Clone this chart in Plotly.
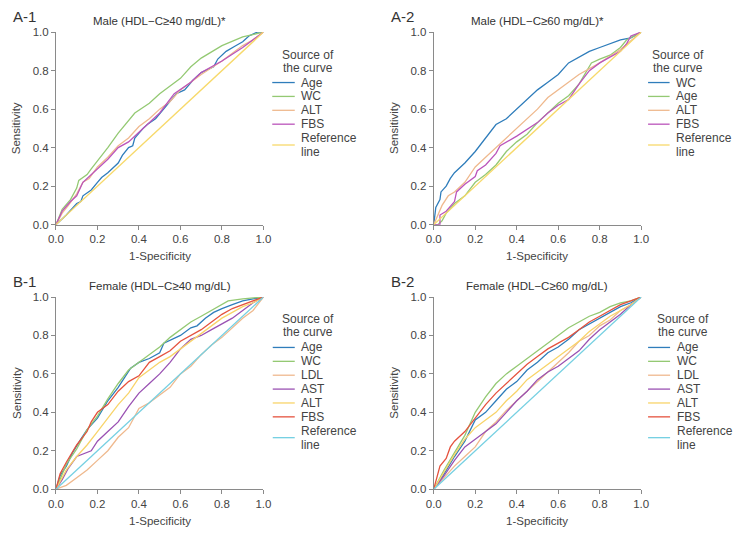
import plotly.graph_objects as go

# ---------------- data ----------------
# Panel A-1: Male (HDL-C>=40 mg/dL)*
A1_age_x = [0, 0.05, 0.1, 0.12, 0.13, 0.17, 0.2, 0.22, 0.25, 0.28, 0.3, 0.32, 0.35, 0.37, 0.38, 0.42, 0.44, 0.48, 0.52, 0.55, 0.58, 0.62, 0.66, 0.7, 0.76, 0.78, 0.82, 0.86, 0.9, 0.93, 0.97, 1]
A1_age_y = [0, 0.05, 0.11, 0.12, 0.15, 0.18, 0.22, 0.245, 0.27, 0.3, 0.32, 0.36, 0.4, 0.41, 0.45, 0.5, 0.52, 0.55, 0.6, 0.64, 0.68, 0.7, 0.75, 0.79, 0.82, 0.86, 0.9, 0.925, 0.95, 0.98, 1.0, 1]
A1_wc_x = [0, 0.03, 0.07, 0.1, 0.11, 0.15, 0.17, 0.2, 0.25, 0.3, 0.34, 0.38, 0.45, 0.5, 0.55, 0.6, 0.65, 0.7, 0.8, 0.9, 1]
A1_wc_y = [0, 0.08, 0.13, 0.19, 0.23, 0.26, 0.29, 0.33, 0.4, 0.475, 0.53, 0.58, 0.63, 0.68, 0.72, 0.76, 0.82, 0.865, 0.93, 0.975, 1]
A1_alt_x = [0, 0.03, 0.06, 0.1, 0.13, 0.16, 0.2, 0.25, 0.3, 0.35, 0.4, 0.45, 0.5, 0.55, 0.6, 0.7, 0.8, 0.9, 0.95, 1]
A1_alt_y = [0, 0.06, 0.1, 0.16, 0.22, 0.24, 0.3, 0.35, 0.41, 0.45, 0.51, 0.55, 0.6, 0.64, 0.7, 0.78, 0.85, 0.93, 0.96, 1]
A1_fbs_x = [0, 0.03, 0.07, 0.1, 0.13, 0.17, 0.2, 0.25, 0.3, 0.35, 0.4, 0.45, 0.5, 0.57, 0.65, 0.7, 0.8, 0.9, 0.95, 1]
A1_fbs_y = [0, 0.07, 0.12, 0.15, 0.22, 0.26, 0.29, 0.34, 0.4, 0.43, 0.48, 0.53, 0.58, 0.68, 0.74, 0.79, 0.85, 0.92, 0.96, 1]

# Panel A-2: Male (HDL-C>=60 mg/dL)*
A2_wc_x = [0, 0.005, 0.01, 0.03, 0.035, 0.06, 0.08, 0.1, 0.15, 0.2, 0.25, 0.3, 0.35, 0.4, 0.45, 0.5, 0.55, 0.6, 0.65, 0.7, 0.75, 0.8, 0.85, 0.9, 0.95, 1]
A2_wc_y = [0, 0.05, 0.09, 0.13, 0.17, 0.2, 0.24, 0.27, 0.32, 0.38, 0.45, 0.52, 0.55, 0.6, 0.65, 0.7, 0.74, 0.78, 0.84, 0.87, 0.9, 0.92, 0.94, 0.96, 0.97, 1]
A2_age_x = [0, 0.02, 0.04, 0.06, 0.1, 0.15, 0.2, 0.25, 0.3, 0.35, 0.4, 0.45, 0.5, 0.55, 0.6, 0.65, 0.7, 0.76, 0.8, 0.85, 0.9, 0.93, 1]
A2_age_y = [0, 0, 0.02, 0.06, 0.11, 0.15, 0.22, 0.26, 0.31, 0.38, 0.43, 0.47, 0.53, 0.58, 0.63, 0.67, 0.73, 0.84, 0.86, 0.88, 0.92, 0.96, 1]
A2_alt_x = [0, 0.02, 0.04, 0.07, 0.1, 0.15, 0.2, 0.25, 0.3, 0.35, 0.4, 0.45, 0.5, 0.55, 0.6, 0.65, 0.7, 0.8, 0.9, 1]
A2_alt_y = [0, 0.05, 0.1, 0.15, 0.17, 0.22, 0.3, 0.35, 0.4, 0.45, 0.5, 0.55, 0.6, 0.66, 0.7, 0.74, 0.78, 0.84, 0.91, 1]
A2_fbs_x = [0, 0.03, 0.03, 0.06, 0.1, 0.11, 0.15, 0.2, 0.21, 0.25, 0.3, 0.32, 0.4, 0.5, 0.55, 0.6, 0.65, 0.7, 0.75, 0.8, 0.9, 0.93, 0.95, 1]
A2_fbs_y = [0, 0.0, 0.05, 0.07, 0.12, 0.17, 0.21, 0.25, 0.28, 0.31, 0.37, 0.41, 0.46, 0.53, 0.58, 0.62, 0.65, 0.73, 0.8, 0.84, 0.9, 0.94, 0.98, 1]

# Panel B-1: Female (HDL-C>=40 mg/dL)
B1_age_x = [0, 0.02, 0.05, 0.08, 0.12, 0.15, 0.2, 0.25, 0.3, 0.36, 0.4, 0.45, 0.5, 0.52, 0.6, 0.65, 0.68, 0.72, 0.76, 0.8, 0.85, 0.9, 0.95, 1]
B1_age_y = [0, 0.07, 0.12, 0.19, 0.26, 0.31, 0.37, 0.46, 0.53, 0.63, 0.66, 0.68, 0.71, 0.76, 0.8, 0.84, 0.85, 0.89, 0.92, 0.94, 0.96, 0.98, 0.99, 1]
B1_wc_x = [0, 0.05, 0.1, 0.15, 0.2, 0.25, 0.3, 0.35, 0.4, 0.45, 0.5, 0.55, 0.6, 0.65, 0.7, 0.75, 0.8, 0.83, 0.9, 1]
B1_wc_y = [0, 0.13, 0.21, 0.31, 0.38, 0.47, 0.55, 0.62, 0.66, 0.7, 0.74, 0.79, 0.83, 0.87, 0.9, 0.93, 0.96, 0.98, 0.99, 1]
B1_ldl_x = [0, 0.05, 0.1, 0.15, 0.2, 0.25, 0.3, 0.35, 0.4, 0.45, 0.5, 0.55, 0.6, 0.65, 0.7, 0.75, 0.8, 0.85, 0.9, 0.95, 1]
B1_ldl_y = [0, 0.02, 0.06, 0.1, 0.15, 0.2, 0.27, 0.32, 0.42, 0.45, 0.49, 0.53, 0.6, 0.64, 0.7, 0.75, 0.79, 0.84, 0.89, 0.93, 1]
B1_ast_x = [0, 0.03, 0.06, 0.1, 0.17, 0.2, 0.25, 0.3, 0.35, 0.4, 0.45, 0.5, 0.55, 0.6, 0.65, 0.7, 0.75, 0.8, 0.85, 0.9, 0.95, 1]
B1_ast_y = [0, 0.05, 0.11, 0.17, 0.2, 0.25, 0.3, 0.35, 0.43, 0.5, 0.55, 0.6, 0.66, 0.73, 0.78, 0.8, 0.83, 0.86, 0.89, 0.93, 0.97, 1]
B1_alt_x = [0, 0.05, 0.1, 0.15, 0.2, 0.25, 0.3, 0.35, 0.4, 0.45, 0.5, 0.55, 0.6, 0.65, 0.7, 0.75, 0.8, 0.85, 0.9, 0.95, 1]
B1_alt_y = [0, 0.1, 0.17, 0.23, 0.3, 0.37, 0.44, 0.5, 0.58, 0.62, 0.66, 0.69, 0.73, 0.77, 0.81, 0.85, 0.89, 0.92, 0.95, 0.97, 1]
B1_fbs_x = [0, 0.02, 0.05, 0.1, 0.15, 0.17, 0.2, 0.25, 0.3, 0.35, 0.4, 0.45, 0.5, 0.55, 0.6, 0.65, 0.7, 0.75, 0.8, 0.85, 0.9, 0.95, 1]
B1_fbs_y = [0, 0.08, 0.14, 0.23, 0.3, 0.35, 0.4, 0.44, 0.51, 0.56, 0.59, 0.66, 0.69, 0.72, 0.77, 0.8, 0.83, 0.87, 0.91, 0.94, 0.96, 0.98, 1]

# Panel B-2: Female (HDL-C>=60 mg/dL)
B2_age_x = [0, 0.05, 0.1, 0.15, 0.2, 0.25, 0.3, 0.35, 0.4, 0.45, 0.5, 0.55, 0.6, 0.65, 0.7, 0.75, 0.8, 0.85, 0.9, 0.95, 1]
B2_age_y = [0, 0.08, 0.17, 0.25, 0.36, 0.4, 0.46, 0.52, 0.56, 0.62, 0.66, 0.71, 0.74, 0.78, 0.83, 0.86, 0.89, 0.92, 0.95, 0.97, 1]
B2_wc_x = [0, 0.05, 0.1, 0.15, 0.2, 0.25, 0.3, 0.35, 0.4, 0.45, 0.5, 0.55, 0.6, 0.65, 0.7, 0.75, 0.8, 0.85, 0.9, 0.95, 1]
B2_wc_y = [0, 0.1, 0.19, 0.28, 0.4, 0.48, 0.55, 0.6, 0.64, 0.68, 0.72, 0.76, 0.8, 0.84, 0.87, 0.9, 0.92, 0.95, 0.97, 0.98, 1]
B2_ldl_x = [0, 0.05, 0.1, 0.15, 0.2, 0.25, 0.3, 0.35, 0.4, 0.45, 0.5, 0.55, 0.6, 0.65, 0.7, 0.75, 0.8, 0.85, 0.9, 0.95, 1]
B2_ldl_y = [0, 0.06, 0.12, 0.17, 0.22, 0.3, 0.35, 0.41, 0.46, 0.51, 0.56, 0.61, 0.66, 0.71, 0.77, 0.8, 0.85, 0.88, 0.93, 0.96, 1]
B2_ast_x = [0, 0.05, 0.1, 0.15, 0.2, 0.25, 0.3, 0.35, 0.4, 0.45, 0.5, 0.55, 0.6, 0.65, 0.7, 0.75, 0.8, 0.85, 0.9, 0.95, 1]
B2_ast_y = [0, 0.07, 0.15, 0.22, 0.26, 0.3, 0.34, 0.4, 0.46, 0.51, 0.57, 0.61, 0.64, 0.68, 0.72, 0.78, 0.83, 0.87, 0.91, 0.96, 1]
B2_alt_x = [0, 0.05, 0.1, 0.15, 0.2, 0.25, 0.3, 0.35, 0.4, 0.45, 0.5, 0.55, 0.6, 0.65, 0.7, 0.75, 0.8, 0.85, 0.9, 0.95, 1]
B2_alt_y = [0, 0.09, 0.18, 0.26, 0.32, 0.36, 0.4, 0.46, 0.51, 0.57, 0.61, 0.65, 0.69, 0.73, 0.77, 0.82, 0.86, 0.9, 0.93, 0.96, 1]
B2_fbs_x = [0, 0.03, 0.06, 0.08, 0.1, 0.15, 0.2, 0.25, 0.3, 0.35, 0.4, 0.45, 0.5, 0.55, 0.6, 0.65, 0.7, 0.75, 0.8, 0.85, 0.9, 0.95, 1]
B2_fbs_y = [0, 0.12, 0.16, 0.22, 0.25, 0.3, 0.37, 0.44, 0.5, 0.55, 0.6, 0.65, 0.69, 0.73, 0.76, 0.79, 0.83, 0.87, 0.9, 0.93, 0.96, 0.98, 1]

REF_x = [0, 1]
REF_y = [0, 1]

panel_labels = ["A-1", "A-2", "B-1", "B-2"]
panel_titles = ["Male (HDL\u2212C\u226540 mg/dL)*", "Male (HDL\u2212C\u226560 mg/dL)*",
                "Female (HDL\u2212C\u226540 mg/dL)", "Female (HDL\u2212C\u226560 mg/dL)"]
tick_vals = [0, 0.2, 0.4, 0.6, 0.8, 1.0]
tick_text = ["0.0", "0.2", "0.4", "0.6", "0.8", "1.0"]
legend_title_lines = ["Source of", "the curve"]

# ---------------- styles ----------------
BLUE = "#2f7dbb"
GREEN = "#94c973"
TAN = "#efb98e"
MAGENTA = "#bb55bb"
YELLOW_REF = "#f7d96a"
PURPLE = "#9a52b3"
YELLOW = "#f8d46a"
RED = "#e5533f"
CYAN = "#76d0e2"

panels = [
    [("Age", A1_age_x, A1_age_y, BLUE), ("WC", A1_wc_x, A1_wc_y, GREEN),
     ("ALT", A1_alt_x, A1_alt_y, TAN), ("FBS", A1_fbs_x, A1_fbs_y, MAGENTA),
     ("Reference<br>line", REF_x, REF_y, YELLOW_REF)],
    [("WC", A2_wc_x, A2_wc_y, BLUE), ("Age", A2_age_x, A2_age_y, GREEN),
     ("ALT", A2_alt_x, A2_alt_y, TAN), ("FBS", A2_fbs_x, A2_fbs_y, MAGENTA),
     ("Reference<br>line", REF_x, REF_y, YELLOW_REF)],
    [("Age", B1_age_x, B1_age_y, BLUE), ("WC", B1_wc_x, B1_wc_y, GREEN),
     ("LDL", B1_ldl_x, B1_ldl_y, TAN), ("AST", B1_ast_x, B1_ast_y, PURPLE),
     ("ALT", B1_alt_x, B1_alt_y, YELLOW), ("FBS", B1_fbs_x, B1_fbs_y, RED),
     ("Reference<br>line", REF_x, REF_y, CYAN)],
    [("Age", B2_age_x, B2_age_y, BLUE), ("WC", B2_wc_x, B2_wc_y, GREEN),
     ("LDL", B2_ldl_x, B2_ldl_y, TAN), ("AST", B2_ast_x, B2_ast_y, PURPLE),
     ("ALT", B2_alt_x, B2_alt_y, YELLOW), ("FBS", B2_fbs_x, B2_fbs_y, RED),
     ("Reference<br>line", REF_x, REF_y, CYAN)],
]

W, H = 751, 534
FONT = "Liberation Sans, Arial, sans-serif"
TXT = "#444444"
AXC = "#8a8a8a"
FS = 11.5


def px(x):
    return x / W


def py(y):
    return 1 - y / H


# plot areas in pixels: (left, right, top, bottom)
areas = [(49, 261, 26.7, 223.7), (435, 647, 26.7, 223.7),
         (49, 261, 297.7, 494.3), (435, 647, 297.7, 494.3)]
# legend geometry in pixels: (line x0, line x1, text x, title center x, title y, first item y)
leg_geo = [(270, 293, 298, 306.5, 50, 78.3), (654, 676, 682, 684.5, 50, 78.3),
           (270.5, 293, 298.5, 306.5, 320.5, 349.3), (654, 676.5, 683, 690, 320.5, 349.3)]
ROW = 14.2
TROW = 13.5

fig = go.Figure()
annotations = []
shapes = []
layout_axes = {}

for i, series in enumerate(panels):
    xa = "x" if i == 0 else f"x{i+1}"
    ya = "y" if i == 0 else f"y{i+1}"
    for name, xs, ys, col in series:
        fig.add_trace(go.Scatter(x=xs, y=ys, mode="lines", name=name.replace("<br>", " "),
                                 line=dict(color=col, width=1.3), xaxis=xa, yaxis=ya,
                                 showlegend=False, hoverinfo="skip"))
    l, r, t, b = areas[i]
    axcommon = dict(range=[0, 1], showgrid=False, zeroline=False, showline=True,
                    linecolor=AXC, linewidth=1, ticks="outside", ticklen=4, tickwidth=1,
                    tickcolor=AXC, tickvals=tick_vals, ticktext=tick_text,
                    tickfont=dict(family=FONT, size=FS, color=TXT), fixedrange=True)
    xkey = "xaxis" if i == 0 else f"xaxis{i+1}"
    ykey = "yaxis" if i == 0 else f"yaxis{i+1}"
    layout_axes[xkey] = dict(axcommon, domain=[px(l), px(r)], anchor=ya)
    layout_axes[ykey] = dict(axcommon, domain=[py(b), py(t)], anchor=xa)

    cx = (l + r) / 2
    # panel label
    annotations.append(dict(text=panel_labels[i], x=px(l - 45), y=py(t - 15.5),
                            xref="paper", yref="paper", xanchor="left", yanchor="middle",
                            showarrow=False, borderpad=0,
                            font=dict(family=FONT, size=15, color="#333333")))
    # title
    annotations.append(dict(text=panel_titles[i], x=px(cx), y=py(t - 11.5), xref="paper", yref="paper",
                            xanchor="center", yanchor="middle", showarrow=False, borderpad=0,
                            font=dict(family=FONT, size=FS, color="#333333")))
    # axis titles
    annotations.append(dict(text="Sensitivity", x=px(l - 40), y=py((t + b) / 2), xref="paper", yref="paper",
                            xanchor="center", yanchor="middle", textangle=-90, showarrow=False,
                            borderpad=0, font=dict(family=FONT, size=FS, color=TXT)))
    annotations.append(dict(text="1-Specificity", x=px(cx), y=py(b + 32.5), xref="paper", yref="paper",
                            xanchor="center", yanchor="middle", showarrow=False, borderpad=0,
                            font=dict(family=FONT, size=FS, color=TXT)))

    # legend
    lx0, lx1, tx, tcx, ty, iy = leg_geo[i]
    for j, line in enumerate(legend_title_lines):
        annotations.append(dict(text=line, x=px(tcx), y=py(ty + j * TROW), xref="paper", yref="paper",
                                xanchor="center", yanchor="middle", showarrow=False, borderpad=0,
                                font=dict(family=FONT, size=FS + 0.5, color=TXT)))
    for k, (name, xs, ys, col) in enumerate(series):
        yy = iy + k * ROW
        parts = name.split("<br>")
        ly = yy + ROW * (len(parts) - 1) / 2
        shapes.append(dict(type="line", xref="paper", yref="paper", x0=px(lx0), x1=px(lx1),
                           y0=py(ly), y1=py(ly), line=dict(color=col, width=1.3)))
        for j, part in enumerate(parts):
            annotations.append(dict(text=part, x=px(tx), y=py(yy + j * ROW), xref="paper", yref="paper",
                                    xanchor="left", yanchor="middle", showarrow=False, borderpad=0,
                                    font=dict(family=FONT, size=FS + 0.5, color=TXT)))

fig.update_layout(width=W, height=H, autosize=False, margin=dict(l=0, r=0, t=0, b=0),
                  paper_bgcolor="white", plot_bgcolor="white", showlegend=False,
                  annotations=annotations, shapes=shapes, **layout_axes)

fig.write_html("out.html")
